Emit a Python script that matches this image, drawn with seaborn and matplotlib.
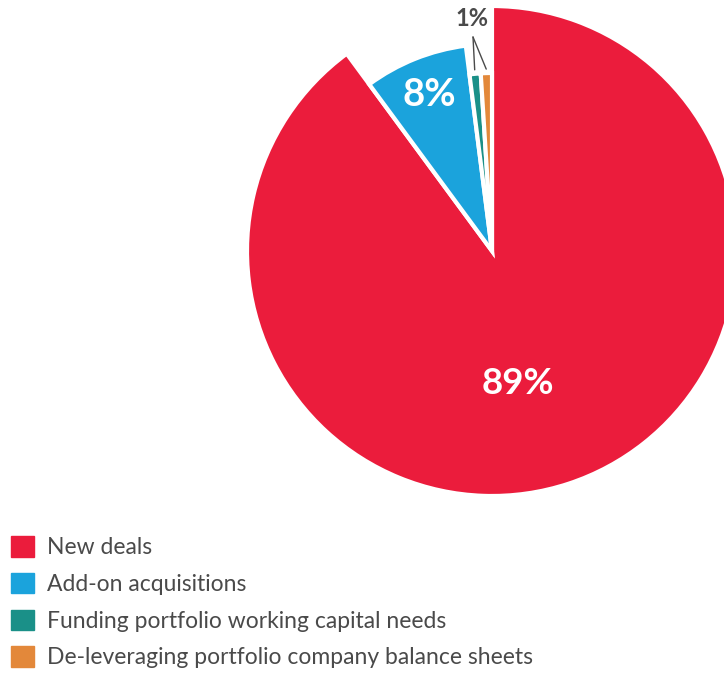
import seaborn as sns
import matplotlib.pyplot as plt
import matplotlib.patches as mpatches
import numpy as np

# Categories and shares (%)
categories = [
    'New deals',
    'Add-on acquisitions',
    'Funding portfolio working capital needs',
    'De-leveraging portfolio company balance sheets',
]
shares = [89, 8, 1, 1]
colors = ['#EB1C3C', '#1BA3DC', '#1A9088', '#E3883A']

sns.set_theme(style="white")
plt.rcParams['font.family'] = ['Lato', 'DejaVu Sans']

W, H = 724, 675
fig = plt.figure(figsize=(W / 100, H / 100), dpi=100)
ax = fig.add_axes([0, 0, 1, 1])

cx, cy = 492, H - 251
wedges, _ = ax.pie(
    shares, colors=colors, startangle=90, counterclock=False,
    center=(cx, cy), radius=245,
    wedgeprops=dict(edgecolor='white', linewidth=3),
)
# smaller slices are drawn with shorter radii
wedges[1].set_radius(207)
wedges[2].set_radius(178)
wedges[3].set_radius(178)

ax.set_xlim(0, W)
ax.set_ylim(0, H)
ax.set_aspect('equal')
ax.axis('off')

# value labels
ax.text(518, H - 383, '89%', color='white', fontsize=26.5, fontweight='bold',
        ha='center', va='center')
ax.text(429, H - 95, '8%', color='white', fontsize=27.5, fontweight='bold',
        ha='center', va='center')
ax.text(472, H - 19, '1%', color='#4a4a4a', fontsize=17, fontweight='bold',
        ha='center', va='center')

# leader lines from the "1%" label to the two small slices
for w in wedges[2:]:
    mid = np.deg2rad((w.theta1 + w.theta2) / 2)
    ex = cx + (w.r + 4) * np.cos(mid)
    ey = cy + (w.r + 4) * np.sin(mid)
    ax.plot([473, ex], [H - 37, ey], color='#4a4a4a', lw=1)

handles = [mpatches.Patch(color=c, label=l) for c, l in zip(colors, categories)]
fig.legend(handles=handles, loc='upper left', bbox_to_anchor=(11 / W, 1 - 536 / H),
           frameon=False, fontsize=16.5, handlelength=1.0, handleheight=1.0,
           handletextpad=0.55, labelspacing=0.64, borderpad=0, borderaxespad=0,
           labelcolor='#4a4a4a')

plt.savefig('out.png', dpi=100)
